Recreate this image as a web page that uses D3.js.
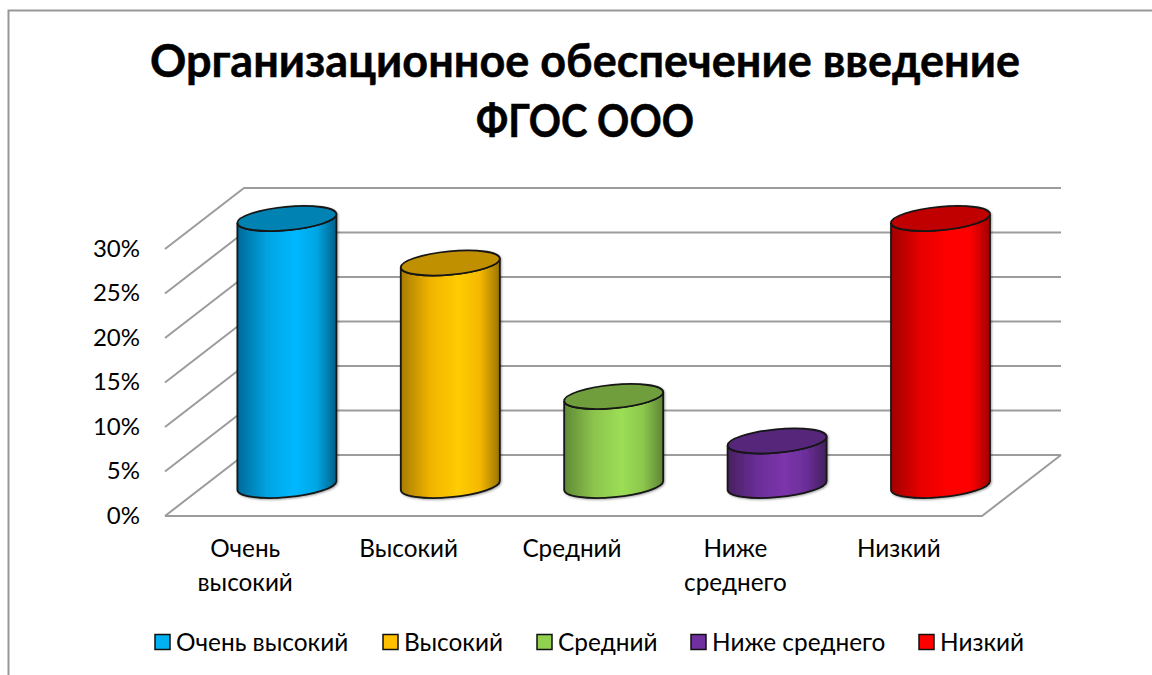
<!DOCTYPE html>
<html><head><meta charset="utf-8">
<script src="https://cdn.jsdelivr.net/npm/d3@7"></script>
<style>
html,body{margin:0;padding:0;background:#fff;overflow:hidden}
svg{display:block}
text{font-family:Lato,"Open Sans","Noto Sans",sans-serif;fill:#000}
</style></head><body>
<script>
const categories=["Очень высокий","Высокий","Средний","Ниже среднего","Низкий"];
const values=[30,25,10,5,30];
const yTicks=[0,5,10,15,20,25,30];
const titleLines=["Организационное обеспечение введение","ФГОС ООО"];
const axisLines=[["Очень","высокий"],["Высокий"],["Средний"],["Ниже","среднего"],["Низкий"]];
const topColors=["#0083b3","#c09000","#6f9e3c","#54267a","#c00000"];
const stops=[
 ["#00699a","#00a4e0","#00b8ff","#00a6e4","#005f88"],
 ["#a87c00","#f0b400","#ffcc00","#f5b800","#9a7400"],
 ["#5f8a35","#8cc44d","#9cde55","#8cc64d","#5c8534"],
 ["#47215f","#6a2e98","#7c35ab","#6a2e98","#43205c"],
 ["#a00000","#e80000","#ff0000","#ff0000","#a00000"]];
const swatchColors=["#00b0f0","#ffc000","#92d050","#7030a0","#ff0000"];
const legendX=[155,383,537,691,919];
const titleWidths=[870,218];

const W=1152,H=675;
const svg=d3.select("body").append("svg").attr("width",W).attr("height",H);
const defs=svg.append("defs");
stops.forEach((s,i)=>{
  const g=defs.append("linearGradient").attr("id","g"+i);
  [0,.3,.58,.8,1].forEach((o,j)=>g.append("stop").attr("offset",o).attr("stop-color",s[j]));
});
defs.append("filter").attr("id","sh").attr("x","-10%").attr("y","-10%").attr("width","120%").attr("height","120%")
  .append("feDropShadow").attr("dx",1).attr("dy",1).attr("stdDeviation",0.8).attr("flood-color","#000").attr("flood-opacity",0.35);

// frame
svg.append("path").attr("d",`M8.5,${H}V10.5H${W}`).attr("fill","none").attr("stroke","#979797").attr("stroke-width",2);

// title
svg.append("g").selectAll("text").data(titleLines).join("text")
  .attr("x",585).attr("y",(d,i)=>77+i*60).attr("text-anchor","middle")
  .attr("font-size",45).attr("font-weight",700)
  .attr("stroke","#000").attr("stroke-width",0.5)
  .attr("textLength",(d,i)=>titleWidths[i]).attr("lengthAdjust","spacingAndGlyphs").text(d=>d);

// scales
const front={left:165,right:982,base:516,top:249};
const depth={dx:79,dy:-61};
const x=d3.scaleBand().domain(categories).range([front.left,front.right]);
const y=d3.scaleLinear().domain([0,30]).range([front.base,front.top]);

// walls + floor
const grid=svg.append("g").attr("fill","none").attr("stroke","#9c9c9c").attr("stroke-width",2);
yTicks.forEach(t=>{
  grid.append("path").attr("d",`M${front.left},${y(t)}L${front.left+depth.dx},${y(t)+depth.dy}H${front.right+depth.dx}`);
});
grid.append("path").attr("d",`M${front.left},${y(0)}H${front.right}L${front.right+depth.dx},${y(0)+depth.dy}`);

// axes
const yAxis=svg.append("g").attr("transform",`translate(${front.left-25},-1)`)
  .call(d3.axisLeft(y).tickValues(yTicks).tickSize(0).tickPadding(0).tickFormat(d=>d+"%"));
yAxis.select(".domain").remove();
yAxis.selectAll("text").attr("font-size",24).attr("dy","0.35em");
yAxis.attr("font-family",null);

const xAxis=svg.append("g").attr("transform",`translate(-1.5,${front.base})`)
  .call(d3.axisBottom(x).tickSize(0).tickFormat(""));
xAxis.select(".domain").remove();
xAxis.attr("font-family",null);
xAxis.selectAll("g.tick text").each(function(d,i){
  const t=d3.select(this).attr("font-size",24.3).attr("y",0).attr("dy",null);
  t.selectAll("tspan").data(axisLines[i]).join("tspan")
    .attr("x",0).attr("y",(l,j)=>41+j*33.5).text(l=>l);
});

// cylinders
const rx=49.7,ry=11.7,rot=-5.3,tx=49.5,ty=4.4;
const cx=c=>x(c)+x.bandwidth()/2+depth.dx/2+0.7;
const bar=svg.append("g").selectAll("g").data(categories).join("g").attr("filter","url(#sh)");
bar.append("path")
  .attr("d",(c,i)=>{
    const b=y(0)+depth.dy/2, t=y(values[i])+depth.dy/2, X=cx(c);
    return `M${X-tx},${t+ty}L${X-tx},${b+ty}A${rx},${ry},${rot},0,0,${X+tx},${b-ty}L${X+tx},${t-ty}A${rx},${ry},${rot},0,1,${X-tx},${t+ty}Z`;
  })
  .attr("fill",(c,i)=>`url(#g${i})`).attr("stroke","#151515").attr("stroke-width",1.8);
bar.append("ellipse")
  .attr("rx",rx).attr("ry",ry)
  .attr("transform",(c,i)=>`translate(${cx(c)},${y(values[i])+depth.dy/2}) rotate(${rot})`)
  .attr("fill",(c,i)=>topColors[i]).attr("stroke","#151515").attr("stroke-width",1.8);

// legend
const lg=svg.append("g").selectAll("g").data(categories).join("g")
  .attr("transform",(c,i)=>`translate(${legendX[i]},642)`);
lg.append("rect").attr("x",0).attr("y",-7.5).attr("width",15).attr("height",15)
  .attr("fill",(c,i)=>swatchColors[i]).attr("stroke","#111").attr("stroke-width",1.5);
lg.append("text").attr("x",21).attr("y",8.5).attr("font-size",24.4).text(c=>c);
</script>
</body></html>
